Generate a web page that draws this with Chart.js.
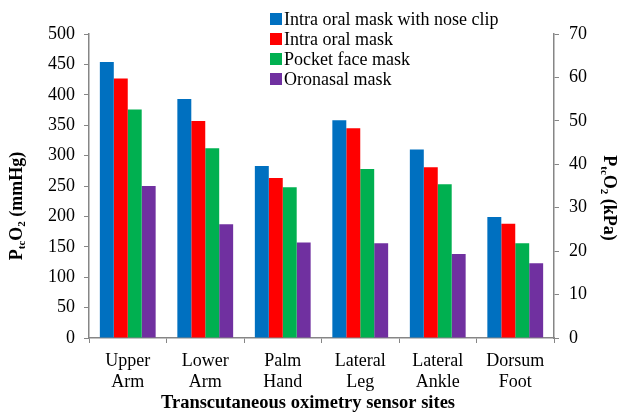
<!DOCTYPE html>
<html>
<head>
<meta charset="utf-8">
<script src="https://cdn.jsdelivr.net/npm/chart.js@4"></script>
<style>
  html, body { margin: 0; padding: 0; background: #fff; }
  #wrap { width: 622px; height: 412px; position: relative; }
</style>
</head>
<body>
<div id="wrap"><canvas id="chart"></canvas></div>
<script>
// sensor sites and mean PtcO2 (mmHg) per mask type
const SITES = [["Upper", "Arm"], ["Lower", "Arm"], ["Palm", "Hand"], ["Lateral", "Leg"], ["Lateral", "Ankle"], ["Dorsum", "Foot"]];
const SERIES_NAMES = ["Intra oral mask with nose clip", "Intra oral mask", "Pocket face mask", "Oronasal mask"];
const NOSE_CLIP = [454, 393, 283, 358, 310, 199];
const INTRA_ORAL = [427, 357, 263, 345, 281, 188];
const POCKET_FACE = [376, 312, 248, 278, 253, 156];
const ORONASAL = [250, 187, 157, 156, 138, 123];
const LEFT_TICKS = { min: 0, max: 500, step: 50 };
const RIGHT_TICKS = { min: 0, max: 70, step: 10 };
const X_TITLE = "Transcutaneous oximetry sensor sites";

const COLORS = ["#0070C0", "#FF0000", "#00B050", "#7030A0"];
const AXIS_GREY = "#868686";
const SERIF = "'Liberation Serif', 'Times New Roman', serif";

const seriesValues = [NOSE_CLIP, INTRA_ORAL, POCKET_FACE, ORONASAL];

// y-axis titles need subscripts, so they're drawn by hand
function drawRich(ctx, parts, cx, cy, angle, size) {
  ctx.save();
  ctx.translate(cx, cy);
  ctx.rotate(angle);
  const subSize = Math.round(size * 0.62);
  let total = 0;
  for (const p of parts) {
    ctx.font = `bold ${p.sub ? subSize : size}px ${SERIF}`;
    p.w = ctx.measureText(p.t).width;
    total += p.w;
  }
  let x = -total / 2;
  ctx.fillStyle = "#000";
  ctx.textBaseline = "middle";
  ctx.textAlign = "left";
  for (const p of parts) {
    ctx.font = `bold ${p.sub ? subSize : size}px ${SERIF}`;
    ctx.fillText(p.t, x, p.sub ? size * 0.3 : 0);
    x += p.w;
  }
  ctx.restore();
}

const extras = {
  id: "extras",
  afterDraw(chart) {
    const ctx = chart.ctx;
    drawRich(ctx, [
      { t: "P" }, { t: "tc", sub: true }, { t: "O" }, { t: "2", sub: true }, { t: " (mmHg)" },
    ], 17, 206, -Math.PI / 2, 18);
    drawRich(ctx, [
      { t: "P" }, { t: "tc", sub: true }, { t: "O" }, { t: "2", sub: true }, { t: " (kPa)" },
    ], 609, 198, Math.PI / 2, 18);
    drawRich(ctx, [{ t: X_TITLE }], 308, 403, 0, 18.5);

    // legend, inside the top of the plot
    ctx.save();
    ctx.font = `18px ${SERIF}`;
    ctx.textBaseline = "middle";
    ctx.textAlign = "left";
    chart.data.datasets.forEach((ds, i) => {
      const y = 19 + i * 20;
      ctx.fillStyle = ds.backgroundColor;
      ctx.fillRect(270, y - 6, 12, 12);
      ctx.fillStyle = "#000";
      ctx.fillText(ds.label, 284, y + 1);
    });
    ctx.restore();
  },
};

new Chart(document.getElementById("chart"), {
  type: "bar",
  data: {
    labels: SITES,
    datasets: SERIES_NAMES.map((name, i) => ({
      label: name,
      data: seriesValues[i],
      backgroundColor: COLORS[i],
      borderWidth: 0,
      categoryPercentage: 0.72,
      barPercentage: 1.0,
      yAxisID: "y",
    })),
  },
  options: {
    responsive: true,
    maintainAspectRatio: false,
    animation: false,
    layout: { padding: { top: 34, left: 0, right: 0, bottom: 0 } },
    plugins: {
      legend: { display: false },
      tooltip: { enabled: false },
    },
    scales: {
      x: {
        offset: true,
        grid: { drawOnChartArea: false, offset: true, color: AXIS_GREY, tickLength: 5, lineWidth: 1 },
        border: { color: AXIS_GREY, width: 1.5 },
        ticks: { color: "#000", font: { family: SERIF, size: 18 }, padding: 7, maxRotation: 0, autoSkip: false },
        afterFit(scale) { scale.height = 74; },
      },
      y: {
        position: "left",
        min: LEFT_TICKS.min,
        max: LEFT_TICKS.max,
        grid: { drawOnChartArea: false, color: AXIS_GREY, tickLength: 5 },
        border: { color: AXIS_GREY, width: 1.5 },
        ticks: { stepSize: LEFT_TICKS.step, color: "#000", font: { family: SERIF, size: 18 }, padding: 9 },
        afterFit(scale) { scale.width = 89; },
      },
      y1: {
        position: "right",
        min: RIGHT_TICKS.min,
        max: RIGHT_TICKS.max,
        grid: { drawOnChartArea: false, color: AXIS_GREY, tickLength: 5 },
        border: { color: AXIS_GREY, width: 1.5 },
        ticks: { stepSize: RIGHT_TICKS.step, color: "#000", font: { family: SERIF, size: 18 }, padding: 10 },
        afterFit(scale) { scale.width = 68; },
      },
    },
  },
  plugins: [extras],
});
</script>
</body>
</html>
